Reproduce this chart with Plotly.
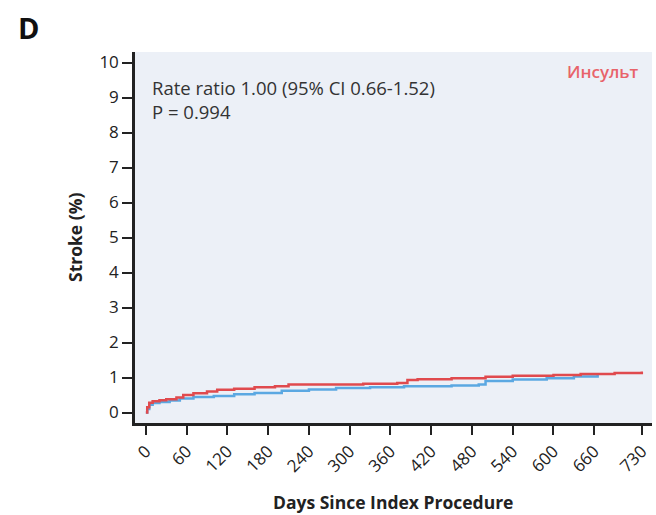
import plotly.graph_objects as go

# Data (cumulative stroke %, step curves)
days_red = [0, 2, 5, 10, 20, 30, 45, 55, 70, 90, 105, 130, 160, 190, 210, 260, 320, 370, 385, 400, 450, 500, 540, 600, 640, 690, 730]
stroke_red = [0, 0.15, 0.28, 0.32, 0.35, 0.38, 0.43, 0.5, 0.55, 0.6, 0.65, 0.68, 0.72, 0.75, 0.8, 0.8, 0.82, 0.84, 0.93, 0.95, 0.98, 1.02, 1.05, 1.07, 1.1, 1.13, 1.17]

days_blue = [0, 2, 5, 10, 20, 35, 50, 70, 100, 130, 160, 200, 240, 280, 330, 380, 450, 490, 500, 540, 590, 630, 665]
stroke_blue = [0, 0.1, 0.22, 0.27, 0.3, 0.34, 0.4, 0.44, 0.47, 0.52, 0.56, 0.62, 0.66, 0.7, 0.72, 0.75, 0.77, 0.8, 0.9, 0.94, 0.98, 1.03, 1.07]

x_ticks = [0, 60, 120, 180, 240, 300, 360, 420, 480, 540, 600, 660, 730]
y_ticks = list(range(0, 11))

BLUE = "#5BA8E2"
RED = "#E04A4E"
FONT = "Open Sans"

fig = go.Figure()
fig.add_trace(go.Scatter(x=days_blue, y=stroke_blue, mode="lines",
                         line=dict(color=BLUE, width=2.5, shape="hv"), showlegend=False))
fig.add_trace(go.Scatter(x=days_red, y=stroke_red, mode="lines",
                         line=dict(color=RED, width=2.5, shape="hv"), showlegend=False))

fig.update_layout(
    width=656, height=515,
    margin=dict(l=135, r=4, t=52, b=92, autoexpand=False),
    paper_bgcolor="white",
    plot_bgcolor="#ECF0F7",
    font=dict(family=FONT, color="#222222"),
    xaxis=dict(
        range=[-16, 745], tickvals=x_ticks, ticktext=[str(v) for v in x_ticks],
        tickangle=-45, ticks="outside", ticklen=9, tickwidth=2, tickcolor="#222",
        showline=True, linecolor="#222", linewidth=2.5, showgrid=False, zeroline=False,
        tickfont=dict(size=17, color="#222"), automargin=False,
    ),
    yaxis=dict(
        range=[-0.3, 10.3], tickvals=y_ticks,
        ticks="outside", ticklen=10, tickwidth=2, tickcolor="#222",
        showline=True, linecolor="#222", linewidth=2.5, showgrid=False, zeroline=False,
        tickfont=dict(size=17, color="#222"), automargin=False,
    ),
)

# axis titles placed as annotations (pixel -> paper conversions)
fig.add_annotation(text="<b>Days Since Index Procedure</b>", xref="paper", yref="paper",
                   x=(393 - 135) / 517, y=(423 - 502) / 371, xanchor="center", yanchor="middle",
                   showarrow=False, font=dict(size=17.5, color="#222"))
fig.add_annotation(text="<b>Stroke (%)</b>", xref="paper", yref="paper", textangle=-90,
                   x=(75 - 135) / 517, y=(423 - 238) / 371, xanchor="center", yanchor="middle",
                   showarrow=False, font=dict(size=17.5, color="#222"))

fig.add_annotation(text="<b>D</b>", xref="paper", yref="paper", x=(16 - 135) / 517, y=(423 - 28) / 371,
                   xanchor="left", yanchor="middle", showarrow=False,
                   font=dict(size=29, color="#111", family=FONT))
fig.add_annotation(text="Rate ratio 1.00 (95% CI 0.66-1.52)<br>P = 0.994", xref="paper", yref="paper",
                   x=(150 - 135) / 517, y=(423 - 73) / 371, xanchor="left", yanchor="top", align="left",
                   showarrow=False, font=dict(size=18.5, color="#333"))
fig.add_annotation(text="Инсульт", xref="paper", yref="paper", x=(641 - 135) / 517, y=(423 - 71) / 371,
                   xanchor="right", yanchor="middle", showarrow=False,
                   font=dict(size=17, color="#E8636A", weight=600))

fig.write_html("out.html")
